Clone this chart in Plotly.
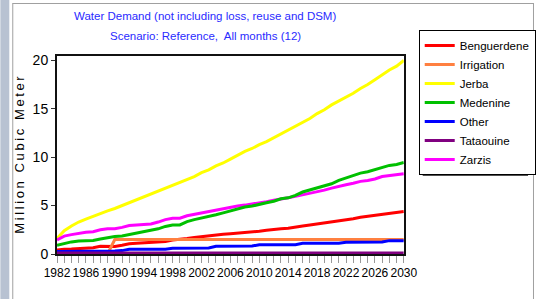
import plotly.graph_objects as go

years = list(range(1982, 2031))

benguerdene = [0.4, 0.5, 0.52, 0.55, 0.55, 0.65, 0.8, 0.8, 0.78, 0.9,
               1.05, 1.1, 1.15, 1.15, 1.2, 1.3, 1.45, 1.5, 1.6, 1.7,
               1.8, 1.85, 1.95, 2.05, 2.1, 2.15, 2.2, 2.3, 2.35, 2.45,
               2.55, 2.6, 2.65, 2.8, 2.9, 3.0, 3.1, 3.2, 3.3, 3.45,
               3.55, 3.65, 3.8, 3.9, 4.0, 4.05, 4.2, 4.3, 4.4]
irrigation = [0, 0, 0, 0, 0, 0, 0, 0, 1.5, 1.5,
              1.5, 1.5, 1.5, 1.5, 1.5, 1.5, 1.5, 1.5, 1.5, 1.5,
              1.5, 1.5, 1.5, 1.5, 1.5, 1.5, 1.5, 1.5, 1.5, 1.5,
              1.5, 1.5, 1.5, 1.5, 1.5, 1.5, 1.5, 1.5, 1.5, 1.5,
              1.5, 1.5, 1.5, 1.5, 1.5, 1.5, 1.5, 1.5, 1.5]
jerba = [1.6, 2.4, 2.9, 3.3, 3.6, 3.9, 4.2, 4.45, 4.7, 5.0,
         5.3, 5.6, 5.9, 6.2, 6.5, 6.8, 7.1, 7.4, 7.7, 8.0,
         8.4, 8.7, 9.1, 9.4, 9.8, 10.2, 10.6, 10.9, 11.3, 11.6,
         12.0, 12.4, 12.8, 13.2, 13.6, 14.0, 14.5, 14.9, 15.4, 15.8,
         16.2, 16.6, 17.1, 17.5, 18.0, 18.5, 19.0, 19.4, 20.0]
medenine = [0.9, 1.1, 1.25, 1.35, 1.35, 1.4, 1.55, 1.7, 1.8, 1.85,
            2.0, 2.15, 2.3, 2.45, 2.6, 2.85, 3.0, 3.0, 3.35, 3.55,
            3.7, 3.9, 4.05, 4.25, 4.45, 4.6, 4.85, 4.95, 5.15, 5.3,
            5.45, 5.7, 5.8, 6.05, 6.4, 6.6, 6.85, 7.0, 7.25, 7.6,
            7.85, 8.1, 8.35, 8.5, 8.7, 8.95, 9.15, 9.25, 9.45]
other = [0.25, 0.25, 0.25, 0.25, 0.28, 0.3, 0.3, 0.3, 0.32, 0.35,
         0.5, 0.5, 0.5, 0.5, 0.5, 0.5, 0.6, 0.62, 0.62, 0.62,
         0.62, 0.63, 0.8, 0.82, 0.82, 0.82, 0.82, 0.83, 0.95, 0.95,
         0.95, 0.95, 0.95, 0.96, 1.1, 1.1, 1.1, 1.1, 1.1, 1.12,
         1.22, 1.22, 1.22, 1.22, 1.23, 1.23, 1.38, 1.38, 1.38]
tataouine = [0.1] * 49
zarzis = [1.45, 1.85, 2.0, 2.15, 2.25, 2.3, 2.5, 2.6, 2.6, 2.75,
          2.95, 3.0, 3.05, 3.1, 3.3, 3.55, 3.7, 3.7, 3.95, 4.1,
          4.25, 4.4, 4.5, 4.65, 4.8, 4.95, 5.05, 5.15, 5.3, 5.4,
          5.55, 5.65, 5.8, 5.95, 6.1, 6.25, 6.45, 6.6, 6.8, 7.0,
          7.15, 7.3, 7.5, 7.6, 7.75, 8.0, 8.1, 8.2, 8.3]

series_names = ["Benguerdene", "Irrigation", "Jerba", "Medenine", "Other", "Tataouine", "Zarzis"]
series_values = [benguerdene, irrigation, jerba, medenine, other, tataouine, zarzis]
series_colors = ["#ff0000", "#ff8040", "#ffff00", "#00c000", "#0000ff", "#800080", "#ff00ff"]

x_tick_vals = list(range(1982, 2031, 4))
y_tick_vals = [0, 5, 10, 15, 20]

FONT = "Liberation Sans, Arial, sans-serif"

W, H = 538, 299
ML, MR, MT, MB = 57, 2, 2, 45
L, R, T, B = 57, 406, 56, 254
PW, PH = W - ML - MR, H - MT - MB


def px(xp):
    return (xp - ML) / PW


def py(yp):
    return (H - MB - yp) / PH


fig = go.Figure()
draw_order = [2, 6, 3, 0, 1, 4, 5]
for i in draw_order:
    fig.add_trace(go.Scatter(
        x=years, y=series_values[i], name=series_names[i], mode="lines",
        line=dict(color=series_colors[i], width=3), legendrank=i + 1,
    ))

ytitle = "\u2009".join("Million Cubic Meter")

fig.update_layout(
    width=W, height=H,
    margin=dict(l=ML, r=MR, t=MT, b=MB, pad=0),
    paper_bgcolor="white", plot_bgcolor="white",
    font=dict(family=FONT, color="black"),
    showlegend=True,
    legend=dict(
        x=px(421), y=py(30), xanchor="left", yanchor="top",
        bgcolor="white", bordercolor="black", borderwidth=1,
        font=dict(family=FONT, size=11.5, color="black"),
        itemwidth=30, tracegroupgap=0, traceorder="normal",
    ),
    xaxis=dict(
        domain=[px(L), px(R)],
        range=[1982, 2030], tickvals=x_tick_vals, ticktext=[str(v) for v in x_tick_vals],
        ticks="outside", ticklen=7, tickcolor="#999999", tickwidth=1, tickangle=0,
        minor=dict(dtick=1, tick0=1982, ticks="outside", ticklen=7, tickcolor="#999999", tickwidth=1, showgrid=False),
        showline=True, linecolor="#111111", linewidth=2, mirror=True,
        showgrid=False, zeroline=False, automargin=False,
        tickfont=dict(family=FONT, size=12, color="black"),
    ),
    yaxis=dict(
        domain=[py(B), py(T)],
        range=[0, 20.45], tickvals=y_tick_vals,
        ticks="outside", ticklen=4, tickcolor="#333333", tickwidth=1,
        showline=True, linecolor="#111111", linewidth=2, mirror=True,
        showgrid=False, zeroline=False, automargin=False,
        tickfont=dict(family=FONT, size=14, color="black"),
        title=dict(text=ytitle, font=dict(family=FONT, size=13, color="black"), standoff=5),
    ),
)

fig.add_annotation(text="Water Demand (not including loss, reuse and DSM)",
                   x=px(206), y=py(16), xref="paper", yref="paper", showarrow=False,
                   font=dict(family=FONT, size=11.5, color="#2a2aff"), xanchor="center", yanchor="middle")
fig.add_annotation(text="Scenario: Reference,  All months (12)",
                   x=px(206), y=py(36), xref="paper", yref="paper", showarrow=False,
                   font=dict(family=FONT, size=11.5, color="#2a2aff"), xanchor="center", yanchor="middle")

# window frame decoration
fig.add_shape(type="rect", xref="paper", yref="paper", x0=px(0), x1=px(9), y0=py(0), y1=py(299),
              fillcolor="#b8c2d2", line=dict(width=0), layer="below")
fig.add_shape(type="line", xref="paper", yref="paper", x0=px(12.5), x1=px(12.5), y0=py(3), y1=py(299),
              line=dict(color="#a0a0a0", width=1))
fig.add_shape(type="line", xref="paper", yref="paper", x0=px(12.5), x1=px(536.5), y0=py(3.5), y1=py(3.5),
              line=dict(color="#a0a0a0", width=1))
fig.add_shape(type="line", xref="paper", yref="paper", x0=px(536.5), x1=px(536.5), y0=py(3), y1=py(299),
              line=dict(color="#a0a0a0", width=1))
# legend drop shadow
fig.add_shape(type="rect", xref="paper", yref="paper", x0=px(425), x1=px(531), y0=py(34), y1=py(176),
              fillcolor="#505050", line=dict(width=0), layer="above")

fig.write_html("out.html", config={"displayModeBar": False},
               post_script="document.body.style.margin='0';")
